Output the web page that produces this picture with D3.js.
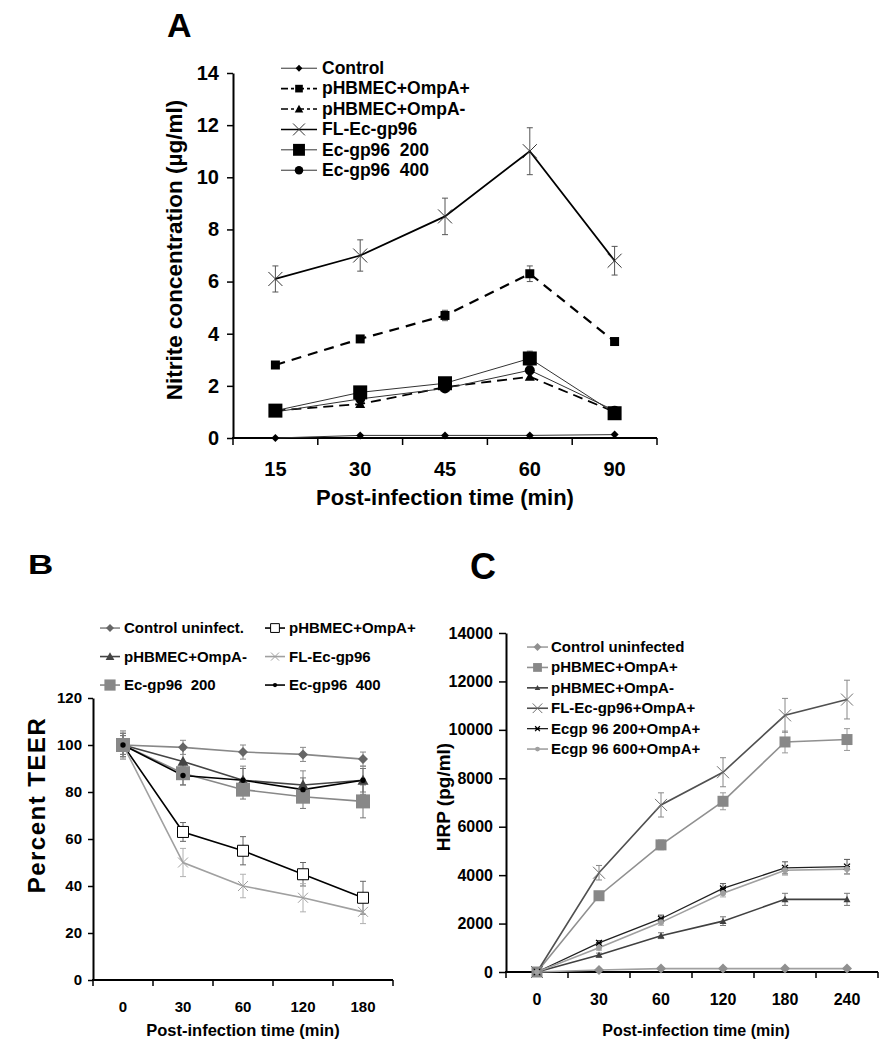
<!DOCTYPE html>
<html><head><meta charset="utf-8">
<script src="https://cdn.jsdelivr.net/npm/d3@7"></script>
<style>
body{margin:0;background:#fff}
svg{display:block}
text{font-family:"Liberation Sans",Arial,Helvetica,sans-serif;font-weight:bold;fill:#000;white-space:pre}
</style>
</head><body>
<svg id="chart" width="887" height="1050"></svg>
<script>
// ---------------- DATA ----------------
// Panel A : Nitrite concentration (µg/ml)
const timesA = ["15","30","45","60","90"];
const yTicksA = [0,2,4,6,8,10,12,14];
const namesA = ["Control","pHBMEC+OmpA+","pHBMEC+OmpA-","FL-Ec-gp96","Ec-gp96  200","Ec-gp96  400"];
const controlA   = [0, 0.1, 0.1, 0.1, 0.13];
const controlErrA= [0, 0, 0, 0, 0];
const ompPlusA   = [2.8, 3.8, 4.7, 6.3, 3.7];
const ompPlusErrA= [0.08, 0.12, 0.2, 0.3, 0.12];
const ompMinusA  = [1.05, 1.3, 1.95, 2.35, 1.0];
const ompMinusErrA=[0.05, 0.1, 0.1, 0.1, 0.08];
const flA        = [6.1, 7.0, 8.5, 11.0, 6.8];
const flErrA     = [0.5, 0.6, 0.7, 0.9, 0.55];
const ec200A     = [1.05, 1.75, 2.1, 3.05, 0.95];
const ec200ErrA  = [0.1, 0.15, 0.15, 0.28, 0.1];
const ec400A     = [1.0, 1.5, 1.9, 2.6, 1.05];
const ec400ErrA  = [0.05, 0.1, 0.1, 0.1, 0.08];

// Panel B : Percent TEER
const timesB = ["0","30","60","120","180"];
const yTicksB = [0,20,40,60,80,100,120];
const namesB = ["Control uninfect.","pHBMEC+OmpA+","pHBMEC+OmpA-","FL-Ec-gp96","Ec-gp96  200","Ec-gp96  400"];
const controlB    = [100, 99, 97, 96, 94];
const controlErrB = [4, 3, 3, 3, 3];
const ompPlusB    = [100, 63, 55, 45, 35];
const ompPlusErrB = [5, 4, 6, 5, 7];
const ompMinusB   = [100, 93, 85, 83, 85];
const ompMinusErrB= [6, 5, 6, 6, 6];
const flB         = [100, 50, 40, 35, 29];
const flErrB      = [6, 6, 5, 6, 5];
const ec200B      = [100, 88, 81, 78, 76];
const ec200ErrB   = [5, 5, 4, 5, 7];
const ec400B      = [100, 87, 85, 81, 85];
const ec400ErrB   = [4, 4, 5, 5, 5];

// Panel C : HRP (pg/ml)
const timesC = ["0","30","60","120","180","240"];
const yTicksC = [0,2000,4000,6000,8000,10000,12000,14000];
const namesC = ["Control uninfected","pHBMEC+OmpA+","pHBMEC+OmpA-","FL-Ec-gp96+OmpA+","Ecgp 96 200+OmpA+","Ecgp 96 600+OmpA+"];
const controlC    = [0, 80, 140, 140, 140, 140];
const controlErrC = [0, 40, 40, 40, 40, 40];
const ompPlusC    = [0, 3150, 5250, 7050, 9500, 9600];
const ompPlusErrC = [0, 100, 200, 350, 450, 450];
const ompMinusC   = [0, 700, 1500, 2100, 3000, 3000];
const ompMinusErrC= [0, 80, 120, 180, 250, 250];
const flC         = [0, 4100, 6900, 8250, 10600, 11250];
const flErrC      = [0, 300, 500, 600, 700, 800];
const ec200C      = [0, 1200, 2200, 3450, 4300, 4350];
const ec200ErrC   = [0, 100, 150, 200, 250, 300];
const ec600C      = [0, 1000, 2050, 3250, 4200, 4250];
const ec600ErrC   = [0, 100, 120, 150, 200, 200];

// ---------------- HELPERS ----------------
const svg = d3.select("#chart");

function markerPath(kind, r) {
  const p = d3.path();
  if (kind === "diamond") { p.moveTo(0,-r); p.lineTo(r,0); p.lineTo(0,r); p.lineTo(-r,0); p.closePath(); }
  else if (kind === "square") { p.rect(-r,-r,2*r,2*r); }
  else if (kind === "triangle") { p.moveTo(0,-r); p.lineTo(r,r*0.8); p.lineTo(-r,r*0.8); p.closePath(); }
  else if (kind === "circle") { p.moveTo(r,0); p.arc(0,0,r,0,2*Math.PI); }
  else if (kind === "x") { p.moveTo(-r,-r); p.lineTo(r,r); p.moveTo(-r,r); p.lineTo(r,-r); }
  else if (kind === "star") { p.moveTo(-r,-r); p.lineTo(r,r); p.moveTo(-r,r); p.lineTo(r,-r); p.moveTo(-r,0); p.lineTo(r,0); }
  return p.toString();
}
function drawMarker(g, m, cx, cy, scale) {
  const open = (m.kind === "x" || m.kind === "star");
  g.append("path").attr("d", markerPath(m.kind, m.r * (scale || 1)))
    .attr("transform", `translate(${cx},${cy})`)
    .attr("fill", open ? "none" : m.fill)
    .attr("stroke", m.stroke || (open ? m.fill : "none"))
    .attr("stroke-width", m.sw || 1);
}

function drawPanel(cfg) {
  const g = svg.append("g");
  const x = d3.scaleBand().domain(cfg.times).range(cfg.xRange).paddingInner(0).paddingOuter(0);
  const y = d3.scaleLinear().domain([0, d3.max(cfg.yTicks)]).range(cfg.yRange);
  const cx = d => x(d) + x.bandwidth()/2;

  // y axis
  const ya = g.append("g").attr("transform", `translate(${cfg.xRange[0]},0)`)
    .call(d3.axisLeft(y).tickValues(cfg.yTicks).tickFormat(d3.format("d"))
      .tickSize(cfg.yTickSize).tickPadding(cfg.yTickPad).tickSizeOuter(0));
  ya.select(".domain").attr("stroke","#000").attr("stroke-width", cfg.axisW);
  ya.selectAll(".tick line").attr("stroke","#000").attr("stroke-width", cfg.tickW);
  ya.selectAll("text").attr("font-size", cfg.yTickFont).attr("font-family", null);

  // x axis line + boundary ticks
  const y0 = y(0);
  g.append("line").attr("x1", cfg.xRange[0]-cfg.axisW/2).attr("x2", cfg.xRange[1]).attr("y1", y0).attr("y2", y0)
    .attr("stroke","#000").attr("stroke-width", cfg.axisW);
  const bounds = cfg.times.map(d => x(d)).concat([cfg.xRange[1]]);
  g.selectAll(".bt").data(bounds).join("line")
    .attr("x1", d=>d).attr("x2", d=>d).attr("y1", y0).attr("y2", y0 + cfg.xTickSize)
    .attr("stroke","#000").attr("stroke-width", cfg.tickW);
  const xa = g.append("g").attr("transform", `translate(0,${y0})`)
    .call(d3.axisBottom(x).tickSize(0).tickPadding(cfg.xTickPad));
  xa.select(".domain").remove();
  xa.selectAll("text").attr("font-size", cfg.xTickFont).attr("font-family", null);

  // titles
  g.append("text").attr("x", cfg.xTitle[0]).attr("y", cfg.xTitle[1]).attr("text-anchor","middle")
    .attr("font-size", cfg.xTitleFont).text(cfg.xTitleText);
  g.append("text").attr("transform", `translate(${cfg.yTitle[0]},${cfg.yTitle[1]}) rotate(-90)`)
    .attr("text-anchor","middle").attr("font-size", cfg.yTitleFont)
    .attr("letter-spacing", cfg.yTitleSpacing || 0).text(cfg.yTitleText);
  g.append("text").attr("x", cfg.letter[0]).attr("y", cfg.letter[1]).attr("font-size", cfg.letterFont)
    .attr("transform", cfg.letterTransform || null).text(cfg.letterText);

  // series
  const line = d3.line().x((d,i) => cx(cfg.times[i])).y(d => y(d));
  cfg.series.forEach(s => {
    const eg = g.append("g").attr("stroke", s.errColor).attr("stroke-width", 1);
    s.values.forEach((v,i) => {
      const e = s.errors[i]; if (!e) return;
      const px = cx(cfg.times[i]);
      eg.append("line").attr("x1",px).attr("x2",px).attr("y1",y(v-e)).attr("y2",y(v+e));
      eg.append("line").attr("x1",px-cfg.cap).attr("x2",px+cfg.cap).attr("y1",y(v+e)).attr("y2",y(v+e));
      eg.append("line").attr("x1",px-cfg.cap).attr("x2",px+cfg.cap).attr("y1",y(v-e)).attr("y2",y(v-e));
    });
  });
  cfg.series.forEach(s => {
    g.append("path").attr("d", line(s.values)).attr("fill","none")
      .attr("stroke", s.color).attr("stroke-width", s.width)
      .attr("stroke-dasharray", s.dash || null);
  });
  cfg.series.forEach(s => {
    s.values.forEach((v,i) => drawMarker(g, s.marker, cx(cfg.times[i]), y(v)));
  });

  // legend
  cfg.series.forEach((s, i) => {
    const L = cfg.legend(i);
    const ly = L.y - cfg.legFont*0.33;
    g.append("line").attr("x1", L.x).attr("x2", L.x + cfg.legLineLen).attr("y1", ly).attr("y2", ly)
      .attr("stroke", s.color).attr("stroke-width", Math.min(s.width,1.6)).attr("stroke-dasharray", s.legDash || null);
    drawMarker(g, s.marker, L.x + cfg.legLineLen/2, ly, cfg.legMarkerScale);
    g.append("text").attr("x", L.x + cfg.legLineLen + cfg.legGap).attr("y", L.y)
      .attr("font-size", cfg.legFont).text(s.name);
  });
}

// ---------------- PANEL A ----------------
drawPanel({
  times: timesA, yTicks: yTicksA, xRange: [233, 657], yRange: [438, 73],
  axisW: 2, tickW: 1.5, yTickSize: 6, yTickPad: 8, yTickFont: 20, xTickSize: 7, xTickPad: 24, xTickFont: 20,
  xTitle: [445, 505], xTitleFont: 22, xTitleText: "Post-infection time (min)",
  yTitle: [182, 250], yTitleFont: 22.5, yTitleText: "Nitrite concentration (\u00b5g/ml)",
  letter: [167, 37], letterFont: 34, letterText: "A",
  cap: 3, legMarkerScale: 0.85,
  legend: i => ({x: 281, y: 74 + i*20.4}), legLineLen: 36, legGap: 5, legFont: 17.5,
  series: [
    {name: namesA[0], values: controlA, errors: controlErrA, color: "#333", width: 1, errColor:"#555",
     marker: {kind:"diamond", r:4, fill:"#000"}},
    {name: namesA[1], values: ompPlusA, errors: ompPlusErrA, color: "#000", width: 2.2, dash: "10,7", legDash:"7,3,3,3", errColor:"#555",
     marker: {kind:"square", r:4.5, fill:"#000"}},
    {name: namesA[2], values: ompMinusA, errors: ompMinusErrA, color: "#000", width: 1.8, dash: "10,6", legDash:"7,3,3,3", errColor:"#555",
     marker: {kind:"triangle", r:5, fill:"#000"}},
    {name: namesA[3], values: flA, errors: flErrA, color: "#000", width: 1.8, errColor:"#555",
     marker: {kind:"x", r:7, fill:"#333", sw:1}},
    {name: namesA[4], values: ec200A, errors: ec200ErrA, color: "#333", width: 1, errColor:"#555",
     marker: {kind:"square", r:7, fill:"#000"}},
    {name: namesA[5], values: ec400A, errors: ec400ErrA, color: "#333", width: 1, errColor:"#555",
     marker: {kind:"circle", r:5, fill:"#000"}}
  ]
});

// ---------------- PANEL B ----------------
drawPanel({
  times: timesB, yTicks: yTicksB, xRange: [93, 393], yRange: [980, 698],
  axisW: 2, tickW: 1.5, yTickSize: 5, yTickPad: 6, yTickFont: 15, xTickSize: 6, xTickPad: 21, xTickFont: 15,
  xTitle: [243, 1036], xTitleFont: 16.5, xTitleText: "Post-infection time (min)",
  yTitle: [45, 805], yTitleFont: 24, yTitleSpacing: 1.5, yTitleText: "Percent TEER",
  letter: [28, 574], letterFont: 28, letterText: "B", letterTransform: "translate(-7,0) scale(1.25,1)",
  cap: 3, legMarkerScale: 0.8,
  legend: i => ({x: i%2 ? 265 : 100, y: 633 + Math.floor(i/2)*28.5}), legLineLen: 20, legGap: 4, legFont: 15,
  series: [
    {name: namesB[0], values: controlB, errors: controlErrB, color: "#888", width: 1.6, errColor:"#888",
     marker: {kind:"diamond", r:5, fill:"#666"}},
    {name: namesB[1], values: ompPlusB, errors: ompPlusErrB, color: "#000", width: 1.6, errColor:"#666",
     marker: {kind:"square", r:5.5, fill:"#fff", stroke:"#000", sw:1}},
    {name: namesB[2], values: ompMinusB, errors: ompMinusErrB, color: "#444", width: 1.6, errColor:"#888",
     marker: {kind:"triangle", r:5.5, fill:"#444"}},
    {name: namesB[3], values: flB, errors: flErrB, color: "#a0a0a0", width: 1.6, errColor:"#b0b0b0",
     marker: {kind:"x", r:5, fill:"#a0a0a0", sw:1}},
    {name: namesB[4], values: ec200B, errors: ec200ErrB, color: "#888", width: 1.6, errColor:"#777",
     marker: {kind:"square", r:7, fill:"#888"}},
    {name: namesB[5], values: ec400B, errors: ec400ErrB, color: "#000", width: 1.6, errColor:"#777",
     marker: {kind:"circle", r:2.7, fill:"#000"}}
  ]
});

// ---------------- PANEL C ----------------
drawPanel({
  times: timesC, yTicks: yTicksC, xRange: [506, 878], yRange: [972, 633],
  axisW: 2, tickW: 1.5, yTickSize: 7, yTickPad: 6, yTickFont: 16, xTickSize: 6, xTickPad: 22, xTickFont: 16,
  xTitle: [696, 1036], xTitleFont: 16, xTitleText: "Post-infection time (min)",
  yTitle: [450, 797], yTitleFont: 19, yTitleText: "HRP (pg/ml)",
  letter: [470, 579], letterFont: 36, letterText: "C",
  cap: 3, legMarkerScale: 0.8,
  legend: i => ({x: 527, y: 652 + i*20.4}), legLineLen: 21, legGap: 3, legFont: 15,
  series: [
    {name: namesC[0], values: controlC, errors: controlErrC, color: "#a0a0a0", width: 1.6, errColor:"#999",
     marker: {kind:"diamond", r:5, fill:"#909090"}},
    {name: namesC[1], values: ompPlusC, errors: ompPlusErrC, color: "#909090", width: 1.6, errColor:"#999",
     marker: {kind:"square", r:5.5, fill:"#888"}},
    {name: namesC[2], values: ompMinusC, errors: ompMinusErrC, color: "#404040", width: 1.6, errColor:"#777",
     marker: {kind:"triangle", r:3.5, fill:"#404040"}},
    {name: namesC[3], values: flC, errors: flErrC, color: "#505050", width: 1.6, errColor:"#888",
     marker: {kind:"x", r:6, fill:"#707070", sw:1}},
    {name: namesC[4], values: ec200C, errors: ec200ErrC, color: "#202020", width: 1.3, errColor:"#555",
     marker: {kind:"star", r:3, fill:"#000", sw:1.2}},
    {name: namesC[5], values: ec600C, errors: ec600ErrC, color: "#a0a0a0", width: 1.6, errColor:"#aaa",
     marker: {kind:"circle", r:3, fill:"#a0a0a0"}}
  ]
});
</script>
</body></html>
